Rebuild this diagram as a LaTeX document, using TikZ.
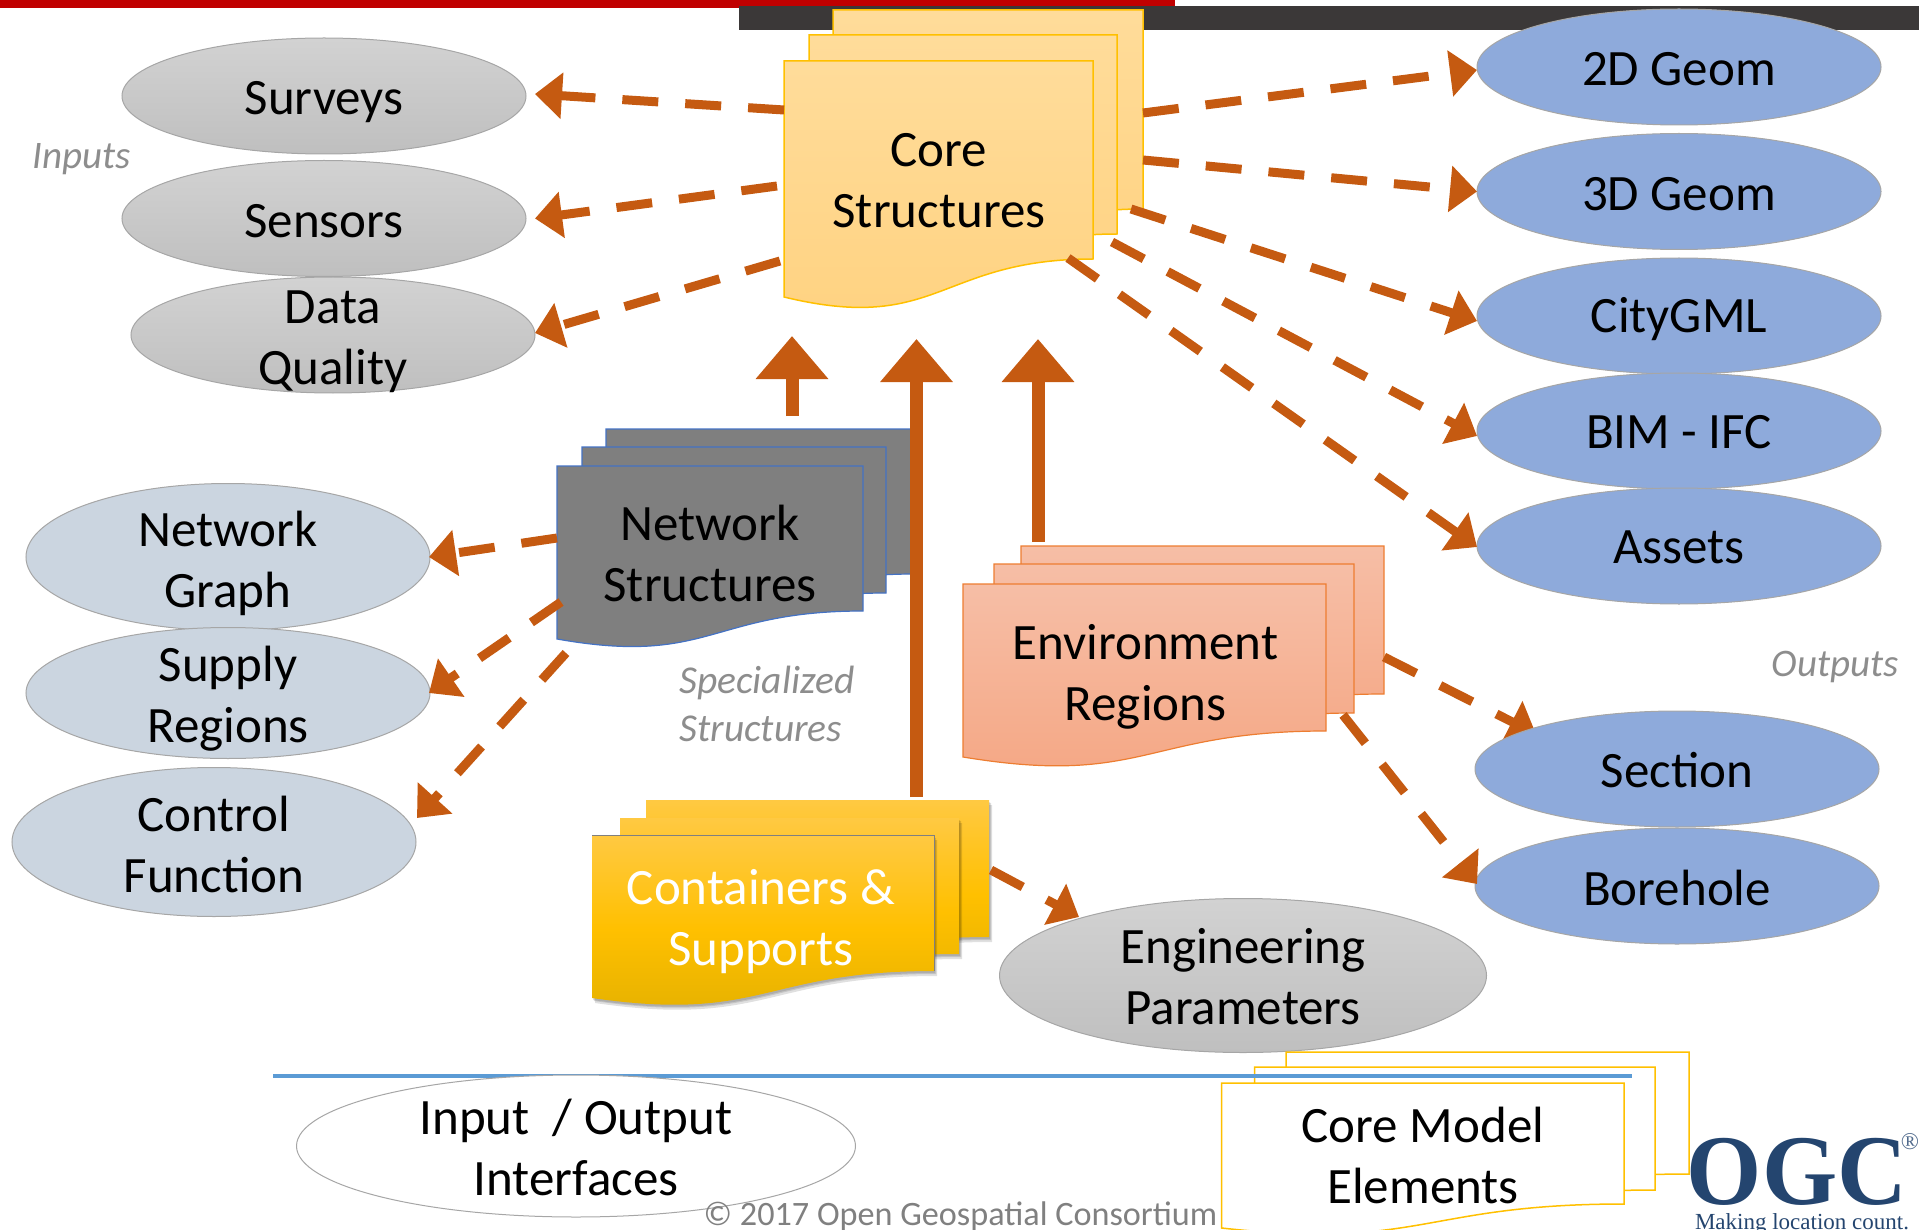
\documentclass[tikz,border=0pt]{standalone}
\usepackage{fontspec}
\setmainfont{Carlito}
\newfontfamily\logofont{Liberation Serif}
\usetikzlibrary{shapes.geometric,arrows.meta}
\definecolor{barred}{HTML}{C00000}
\definecolor{bardark}{HTML}{3B3838}
\definecolor{arrowcol}{HTML}{C55A11}
\definecolor{elline}{HTML}{A6A6A6}
\definecolor{graytop}{HTML}{D2D2D2}
\definecolor{graybot}{HTML}{BFBFBF}
\definecolor{netell}{HTML}{CBD5E0}
\definecolor{outell}{HTML}{8EAADB}
\definecolor{gold}{HTML}{FFC000}
\definecolor{coretop}{HTML}{FFDC9A}
\definecolor{corebot}{HTML}{FFD280}
\definecolor{netgray}{HTML}{7F7F7F}
\definecolor{netline}{HTML}{4472C4}
\definecolor{envtop}{HTML}{F6BEA6}
\definecolor{envbot}{HTML}{F5A683}
\definecolor{envline}{HTML}{ED7D31}
\definecolor{conttop}{HTML}{FFC942}
\definecolor{contbot}{HTML}{E3B000}
\definecolor{captgray}{HTML}{808080}
\definecolor{bluerule}{HTML}{5B9BD5}
\definecolor{ogcblue}{HTML}{24456F}
\newcommand\docshape[6][]{%
  \pgfmathsetmacro\dm{(#2+#4)/2}%
  \pgfmathsetmacro\dc{#5+.381*(#5-#3)}%
  \path[#1] (#2,#3) -- (#4,#3) -- (#4,#5) .. controls (\dm,#5) and (\dm,\dc) .. (#2,#6) -- cycle;}
\newcommand\softshadow[5]{%
  \docshape[fill=black,opacity=.12,shift={(1,2)}]{#1}{#2}{#3}{#4}{#5}%
  \docshape[fill=black,opacity=.12,shift={(2,3)}]{#1}{#2}{#3}{#4}{#5}%
  \docshape[fill=black,opacity=.12,shift={(3,5)}]{#1}{#2}{#3}{#4}{#5}}
\begin{document}
\begin{tikzpicture}[x=1pt,y=-1pt,
  every node/.append style={font=\fontsize{51}{61}\selectfont,inner sep=0pt},
  every label/.append style={font=\fontsize{51}{61}\selectfont,align=center,inner sep=0pt},
  ell/.style={ellipse,inner sep=0pt,minimum width=404pt,minimum height=116pt,draw=elline,line width=1pt},
  grayell/.style={ell,top color=graytop,bottom color=graybot},
  netellipse/.style={ell,fill=netell},
  outellipse/.style={ell,fill=outell},
  coredoc/.style={top color=coretop,bottom color=corebot,draw=gold,line width=1.5pt},
  netdoc/.style={fill=netgray,draw=netline,line width=1.2pt},
  envdoc/.style={top color=envtop,bottom color=envbot,draw=envline,line width=1.2pt},
  contdoc/.style={top color=conttop,bottom color=contbot,middle color=gold},
  plaindoc/.style={fill=white,draw=gold,line width=1.5pt},
  doctext/.style={align=center},
  caption/.style={font=\fontsize{39}{48.5}\selectfont\itshape,text=captgray!90,align=left},
  dasharrow/.style={draw=arrowcol,line width=9pt,dash pattern=on 36pt off 27pt,
    -{Triangle[length=27pt,width=45pt,fill=arrowcol]}},
  solidarrow/.style={draw=arrowcol,line width=13pt,
    -{Triangle[length=43pt,width=70pt,fill=arrowcol]}}]
\useasboundingbox (0,0) rectangle (1919,1230);
\clip (0,0) rectangle (1919,1230);
% top bars
\fill[barred] (0,0) rectangle (1175,8);
\fill[bardark] (739,6) rectangle (1919,30);
% core structures
\docshape[coredoc]{833}{10}{1143}{209}{247}
\docshape[coredoc]{809}{35}{1117}{234}{272}
\docshape[coredoc]{784}{61}{1093}{259}{297}
\node[doctext] (core) at (939,181) {Core\\Structures};
% network structures
\docshape[netdoc]{606}{429}{915}{574}{602}
\docshape[netdoc]{582}{447}{886}{593}{621}
\docshape[netdoc]{557}{466}{863}{611}{639}
\node[doctext] (network) at (710,553) {Network\\Structures};
% environment regions
\docshape[envdoc]{1021}{546}{1384}{694}{720}
\docshape[envdoc]{994}{564}{1354}{713}{739}
\docshape[envdoc]{963}{584}{1326}{731}{757}
\node[doctext] (env) at (1145.5,676.5) {Environment\\Regions};
% containers
\softshadow{646}{800}{989}{937}{964}
\docshape[contdoc]{646}{800}{989}{937}{964}
\softshadow{620}{818}{959}{954}{981}
\docshape[contdoc]{620}{818}{959}{954}{981}
\softshadow{592}{835}{934}{971}{998}
\docshape[contdoc]{592}{835}{934}{971}{998}
\draw[captgray,line width=1pt] (592,835) -- (934,835) -- (934,971);
\node[doctext,text=white] (cont) at (761,921.5) {Containers \&\\Supports};
% ellipses
\node[grayell,label={[yshift=-6pt]center:Surveys}] (surveys) at (324,96) {};
\node[grayell,label={[yshift=-2.5pt]center:Sensors}] (sensors) at (324,218.5) {};
\node[grayell,label={[yshift=-6.5pt]center:Data\\Quality}] (dq) at (333,335) {};
\node[outellipse,label={[yshift=-2.5pt]center:2D Geom}] (geomtwo) at (1679,67) {};
\node[outellipse,label={[yshift=-2.5pt]center:3D Geom}] (geomthree) at (1679,191.5) {};
\node[outellipse,label={[yshift=-3.5pt]center:CityGML}] (city) at (1679,316) {};
\node[outellipse,label={[yshift=-1.5pt]center:BIM - IFC}] (bim) at (1679,431) {};
\node[outellipse,label={[yshift=-1.5pt]center:Assets}] (assets) at (1679,546) {};
\node[outellipse,label={[yshift=-1.5pt]center:Borehole}] (borehole) at (1677,886) {};
\node[netellipse,minimum height=147pt,label={[yshift=-6pt]center:Network\\Graph}] (graph) at (228,557) {};
\node[netellipse,minimum height=131pt,label={[yshift=-6pt]center:Supply\\Regions}] (supply) at (228,693) {};
\node[netellipse,minimum height=149pt,label={[yshift=-2.5pt]center:Control\\Function}] (control) at (214,842) {};
% connectors
\draw[dasharrow] ([shift={(-155,-71)}]core.center) -- ([shift={(211,-2)}]surveys.center);
\draw[dasharrow] ([shift={(-162,5)}]core.center) -- ([shift={(211,0)}]sensors.center);
\draw[dasharrow] ([shift={(-159,80)}]core.center) -- ([shift={(202,-2)}]dq.center);
\draw[dasharrow] ([shift={(204,-68)}]core.center) -- ([shift={(-202,3)}]geomtwo.center);
\draw[dasharrow] ([shift={(204,-21)}]core.center) -- ([shift={(-202,0)}]geomthree.center);
\draw[dasharrow] ([shift={(192,28)}]core.center) -- ([shift={(-202,5)}]city.center);
\draw[dasharrow] ([shift={(173,61)}]core.center) -- ([shift={(-202,5)}]bim.center);
\draw[dasharrow] ([shift={(129,77)}]core.center) -- ([shift={(-202,1)}]assets.center);
\draw[dasharrow] ([shift={(-153,-15)}]network.center) -- ([shift={(201,0)}]graph.center);
\draw[dasharrow] ([shift={(-149,49)}]network.center) -- ([shift={(201,0)}]supply.center);
\draw[dasharrow] ([shift={(-144,100)}]network.center) -- ([shift={(203,-24)}]control.center);
\draw[dasharrow] ([shift={(197.5,38.5)}]env.center) -- ([shift={(-200,-2)}]borehole.center);
\draw[solidarrow] ([shift={(82,-137)}]network.center) -- ([shift={(-147,155)}]core.center);
\draw[solidarrow] ([shift={(155.5,-124.5)}]cont.center) -- ([shift={(-22.5,158)}]core.center);
\draw[solidarrow] ([shift={(-107.5,-134.5)}]env.center) -- ([shift={(99,158)}]core.center);
% connectors whose heads pass under the target ellipse
\coordinate (sectionc) at (1677,769);
\coordinate (engc) at (1243,975.5);
\draw[dasharrow] ([shift={(238.5,-19.5)}]env.center) -- ([shift={(-141,-35)}]sectionc);
\draw[dasharrow] ([shift={(230,-51.5)}]cont.center) -- ([shift={(-164,-58.5)}]engc);
\node[outellipse,label={[yshift=-1pt]center:Section}] (section) at (sectionc) {};
\node[grayell,minimum width=487pt,minimum height=154pt,label={[yshift=-1pt]center:Engineering\\Parameters}] (eng) at (engc) {};
% core model elements
\docshape[plaindoc]{1286}{1052}{1689}{1174}{1198}
\docshape[plaindoc]{1254.5}{1067}{1655}{1190}{1214}
\fill[bluerule] (273,1074) rectangle (1632,1078);
\docshape[plaindoc]{1221.5}{1083}{1624}{1204}{1228}
\node[doctext] (coremodel) at (1423,1155.5) {Core Model\\Elements};
% input output
\node[ell,fill=white,minimum width=559pt,minimum height=142pt,label={[yshift=-1pt]center:Input\ \ / Output\\Interfaces}] (io) at (576,1146) {};
% captions
\node[caption] (inputs) at (82,159.5) {Inputs};
\node[caption] (outputs) at (1835,666.5) {Outputs};
\node[caption,font=\fontsize{39.5}{48.5}\selectfont\itshape] (special) at (767,704) {Specialized\\Structures};
\node[font=\fontsize{34.2}{38}\selectfont,text=captgray] (copy) at (960.5,1216.5) {© 2017 Open Geospatial Consortium};
% logo
\node[font=\fontsize{100}{100}\logofont\bfseries,text=ogcblue,xscale=.967] (ogc) at (1797,1172) {OGC};
\node[font=\fontsize{24}{24}\logofont,text=ogcblue!80] (reg) at (1910,1142) {®};
\node[font=\fontsize{23}{23}\logofont,text=ogcblue] (tag) at (1802,1223.5) {Making location count.};
\end{tikzpicture}
\end{document}
